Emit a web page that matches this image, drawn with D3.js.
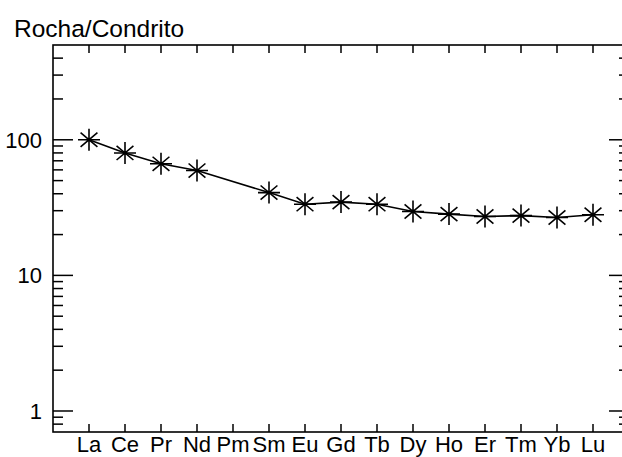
<!DOCTYPE html>
<html><head><meta charset="utf-8">
<script src="https://cdn.jsdelivr.net/npm/d3@7"></script>
<style>body{margin:0;background:#fff}svg{display:block}text{font-family:"Liberation Sans",Arial,sans-serif;fill:#000}</style>
</head><body>
<script>
const elements = ["La","Ce","Pr","Nd","Pm","Sm","Eu","Gd","Tb","Dy","Ho","Er","Tm","Yb","Lu"];
const values = [100, 80, 66.5, 59.3, null, 40.8, 33.5, 34.7, 33.5, 29.6, 28.3, 27.2, 27.6, 26.7, 28.0];
const yMajorTicks = [1, 10, 100];
const yMinorTicks = [0.8, 0.9, 2, 3, 4, 5, 6, 7, 8, 9, 20, 30, 40, 50, 60, 70, 80, 90, 200, 300, 400];
const title = "Rocha/Condrito";

const W = 622, H = 457;
const svg = d3.select("body").append("svg").attr("width", W).attr("height", H);
const L = 53, R = 629, T = 45, B = 432;
const x = d3.scaleLinear().domain([0, elements.length + 1]).range([L, R]);
const y = d3.scaleLog().domain([0.7, 500]).range([B, T]);

const g = svg.append("g");
g.append("rect").attr("x", L).attr("y", T).attr("width", R - L).attr("height", B - T)
  .attr("fill", "none").attr("stroke", "#000").attr("stroke-width", 1.6);

function yTicks(vals, len) {
  vals.forEach(v => {
    const yy = y(v);
    g.append("line").attr("x1", L).attr("x2", L + len).attr("y1", yy).attr("y2", yy).attr("stroke", "#000").attr("stroke-width", 1.5);
    g.append("line").attr("x1", R).attr("x2", R - len).attr("y1", yy).attr("y2", yy).attr("stroke", "#000").attr("stroke-width", 1.5);
  });
}
yTicks(yMajorTicks, 20);
yTicks(yMinorTicks, 10);
yMajorTicks.forEach(v => {
  g.append("text").attr("x", 42).attr("y", y(v)).attr("dy", "0.36em").attr("text-anchor", "end")
    .attr("font-size", 22).text(v);
});

elements.forEach((e, i) => {
  const xx = x(i + 1);
  g.append("line").attr("x1", xx).attr("x2", xx).attr("y1", B).attr("y2", B - 8).attr("stroke", "#000").attr("stroke-width", 1.5);
  g.append("line").attr("x1", xx).attr("x2", xx).attr("y1", T).attr("y2", T + 8).attr("stroke", "#000").attr("stroke-width", 1.5);
  g.append("text").attr("x", xx).attr("y", 452).attr("text-anchor", "middle").attr("font-size", 22).text(e);
});

g.append("text").attr("x", 14).attr("y", 36.5).attr("font-size", 24.5).text(title);

const pts = values.map((v, i) => ({i, v})).filter(d => d.v != null);
g.append("path").datum(pts)
  .attr("d", d3.line().x(d => x(d.i + 1)).y(d => y(d.v)))
  .attr("fill", "none").attr("stroke", "#000").attr("stroke-width", 1.6);

const star = (r, rd, a) => {
  const dx = rd * Math.cos(a), dy = rd * Math.sin(a);
  return `M0,${-r}L0,${r}M${-r},0L${r},0M${-dx},${-dy}L${dx},${dy}M${-dx},${dy}L${dx},${-dy}`;
};
g.selectAll("path.m").data(pts).join("path").attr("class", "m")
  .attr("transform", d => `translate(${x(d.i + 1)},${y(d.v)})`)
  .attr("d", star(11, 11, 40 * Math.PI / 180))
  .attr("fill", "none").attr("stroke", "#000").attr("stroke-width", 1.6);
</script>
</body></html>
